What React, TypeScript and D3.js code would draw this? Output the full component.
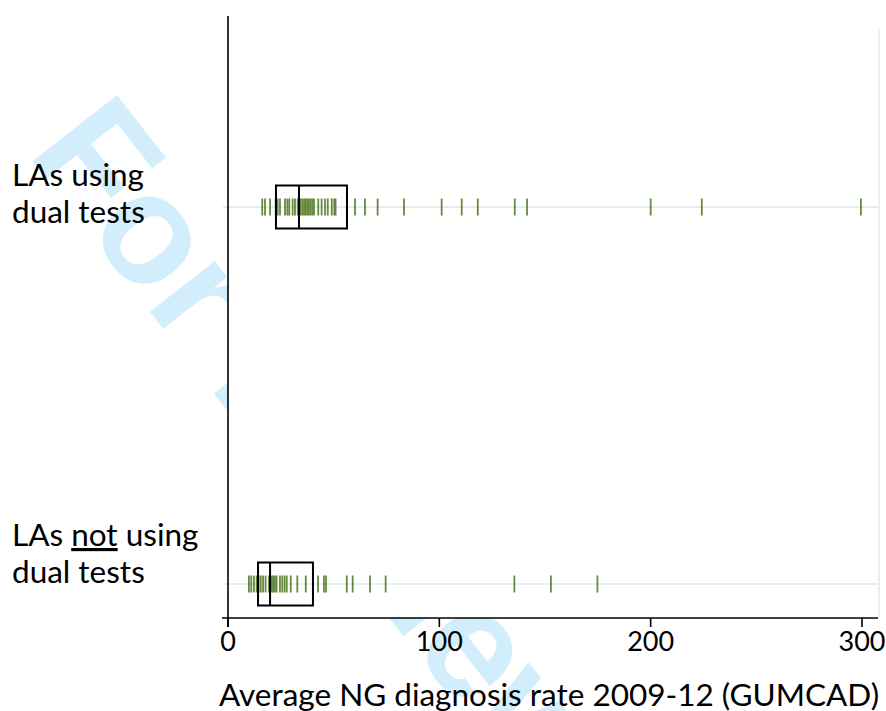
import React from "react";
import * as d3 from "d3";

const categories = ["LAs using dual tests", "LAs not using dual tests"];
const dualValues = [16.2, 17.5, 19.9, 22.6, 23.5, 24.6, 27.0, 28.1, 29.0, 30.6, 31.7, 33.0, 34.4, 35.2, 36.0, 36.8, 37.5, 38.3, 39.1, 39.9, 40.7, 42.7, 44.3, 45.9, 47.2, 49.1, 50.3, 50.9, 60.1, 64.8, 70.8, 83.3, 101.1, 110.6, 118.2, 135.7, 141.5, 200.0, 224.2, 299.5];
const notDualValues = [9.9, 11.0, 12.3, 13.6, 14.5, 15.5, 16.6, 17.8, 19.4, 20.7, 21.4, 22.2, 23.0, 24.6, 25.7, 26.8, 27.8, 29.7, 32.8, 36.8, 42.6, 45.4, 46.4, 56.2, 59.0, 67.2, 74.6, 135.5, 152.8, 174.8];
// box stats [q1, median, q3]
const dualBox = [22.7, 33.6, 56.3];
const notDualBox = [14.2, 19.9, 40.2];
const xTicks = [0, 100, 200, 300];
const xTitle = "Average NG diagnosis rate 2009-12 (GUMCAD)";
const watermark = "For Review Only";

const W = 886;
const H = 711;
const FONT = "Lato, 'Noto Sans', sans-serif";

export default function App() {
  const x = d3.scaleLinear().domain([0, 300]).range([228, 862]);
  const y = d3.scalePoint<string>().domain(categories).range([207, 584]);
  const rows = [
    { cat: categories[0], values: dualValues, box: dualBox },
    { cat: categories[1], values: notDualValues, box: notDualBox },
  ];
  const axisY = 618;
  const boxHalf = 21.5;
  const tickHalf = 8.5;

  return (
    <svg width={W} height={H} style={{ position: "absolute", left: 0, top: 0 }}>
      <rect x={0} y={0} width={W} height={H} fill="#fff" />
      {/* watermark */}
      <text
        transform="translate(26,153) rotate(52)"
        fontFamily="'Liberation Sans', Arial, sans-serif"
        fontWeight="bold"
        fontSize={156}
        fill="#d2eefc"
      >
        {watermark}
      </text>
      {/* plot area background */}
      <rect x={229} y={0} width={650} height={axisY - 1} fill="#fff" />
      {/* right light frame line */}
      <line x1={879} x2={879} y1={29} y2={axisY} stroke="#e8f0f4" strokeWidth={2} />
      {/* grid lines */}
      {rows.map((r) => (
        <line key={"g" + r.cat} x1={223} x2={878} y1={y(r.cat)} y2={y(r.cat)} stroke="#e4edf0" strokeWidth={2} />
      ))}
      {/* strip ticks */}
      {rows.map((r) =>
        r.values.map((v, i) => (
          <line
            key={r.cat + i}
            x1={x(v)}
            x2={x(v)}
            y1={(y(r.cat) as number) - tickHalf}
            y2={(y(r.cat) as number) + tickHalf}
            stroke="#567c2b"
            strokeOpacity={0.9}
            strokeWidth={1.8}
          />
        ))
      )}
      {/* boxes */}
      {rows.map((r) => {
        const cy = y(r.cat) as number;
        return (
          <g key={"b" + r.cat}>
            <rect
              x={x(r.box[0])}
              y={cy - boxHalf}
              width={x(r.box[2]) - x(r.box[0])}
              height={boxHalf * 2}
              fill="none"
              stroke="#000"
              strokeWidth={2}
            />
            <line x1={x(r.box[1])} x2={x(r.box[1])} y1={cy - boxHalf} y2={cy + boxHalf} stroke="#000" strokeWidth={2} />
          </g>
        );
      })}
      {/* axes */}
      <line x1={x(0)} x2={x(0)} y1={16} y2={axisY + 9} stroke="#000" strokeWidth={1.6} />
      <line x1={222} x2={878} y1={axisY} y2={axisY} stroke="#000" strokeWidth={1.6} />
      {xTicks.map((t) => (
        <g key={"t" + t}>
          <line x1={x(t)} x2={x(t)} y1={axisY} y2={axisY + 9} stroke="#000" strokeWidth={1.6} />
          <text x={x(t)} y={651} textAnchor="middle" fontFamily={FONT} fontSize={27} fill="#000">
            {t}
          </text>
        </g>
      ))}
      <text x={549} y={706} textAnchor="middle" fontFamily={FONT} fontSize={31.5} fill="#000">
        {xTitle}
      </text>
      {/* row labels */}
      <text fontFamily={FONT} fontSize={31.5} fill="#000">
        <tspan x={12} y={186}>LAs using</tspan>
        <tspan x={12} y={223}>dual tests</tspan>
      </text>
      <text fontFamily={FONT} fontSize={31.5} fill="#000">
        <tspan x={12} y={546}>LAs <tspan textDecoration="underline">not</tspan> using</tspan>
        <tspan x={12} y={583}>dual tests</tspan>
      </text>
    </svg>
  );
}
